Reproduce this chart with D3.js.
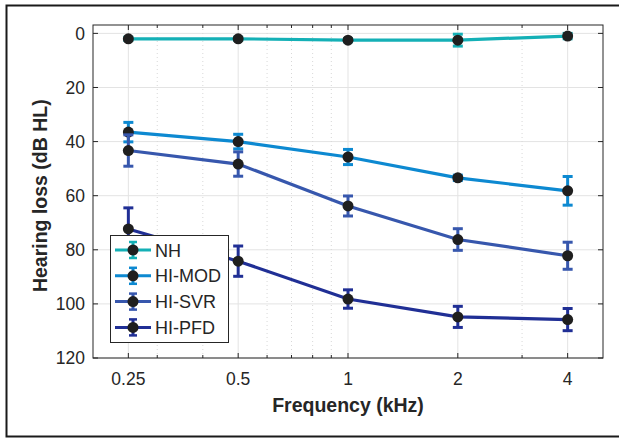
<!DOCTYPE html>
<html lang="en">
  <head>
    <meta charset="UTF-8" />
    <title>Hearing loss</title>
    <style>
      body { margin: 0; background: #fff; }
      text { font-family: "Liberation Sans", Arial, sans-serif; fill: #262626; }
    </style>
  </head>
  <body>
    <svg id="svg" width="619" height="438"></svg>
    <script src="https://d3js.org/d3.v7.min.js"></script>
    <script>
      // data
      const freqs = [0.25, 0.5, 1, 2, 4];
      const groups = ["NH", "HI-MOD", "HI-SVR", "HI-PFD"];
      const colors = ["#14b0b6", "#0d89d1", "#3757ad", "#202f95"];
      const nhMean = [2, 2, 2.5, 2.5, 1];
      const nhErr = [0.6, 0.6, 0.6, 2.2, 1];
      const modMean = [36.5, 40, 45.7, 53.4, 58.2];
      const modErr = [3.6, 2.7, 2.8, 1, 5.3];
      const svrMean = [43.3, 48.3, 63.8, 76.2, 82.2];
      const svrErr = [5.8, 4.5, 3.7, 4, 5];
      const pfdMean = [72.3, 84.2, 98.2, 104.8, 105.8];
      const pfdErr = [7.8, 5.6, 3.4, 3.9, 4.1];
      const yTicks = [0, 20, 40, 60, 80, 100, 120];
      const xMinor = [0.3, 0.4, 0.6, 0.7, 0.8, 0.9, 3];

      const means = [nhMean, modMean, svrMean, pfdMean];
      const errs = [nhErr, modErr, svrErr, pfdErr];

      const svg = d3.select("#svg");
      const L = 93, T = 25, R = 603, B = 358;

      const x = d3.scaleLog().domain([0.2, 5]).range([L, R]);
      const y = d3.scaleLinear().domain([-3.1, 120]).range([T, B]);

      // outer frame
      svg.append("rect")
        .attr("x", 6.5).attr("y", 5.5)
        .attr("width", 630).attr("height", 431)
        .attr("fill", "none").attr("stroke", "#1a1a1a").attr("stroke-width", 2);

      // grid
      const grid = svg.append("g");
      grid.selectAll(".ym").data(yTicks).enter().append("line")
        .attr("x1", L).attr("x2", R)
        .attr("y1", (d) => y(d)).attr("y2", (d) => y(d))
        .attr("stroke", "#e3e3e3").attr("stroke-width", 1);
      grid.selectAll(".xm").data(freqs).enter().append("line")
        .attr("x1", (d) => x(d)).attr("x2", (d) => x(d))
        .attr("y1", T).attr("y2", B)
        .attr("stroke", "#e3e3e3").attr("stroke-width", 1);
      grid.selectAll(".xn").data(xMinor).enter().append("line")
        .attr("x1", (d) => x(d)).attr("x2", (d) => x(d))
        .attr("y1", T).attr("y2", B)
        .attr("stroke", "#d8d8d8").attr("stroke-width", 1)
        .attr("stroke-dasharray", "1,3");

      // axes box + ticks
      const ax = svg.append("g");
      ax.append("rect")
        .attr("x", L).attr("y", T).attr("width", R - L).attr("height", B - T)
        .attr("fill", "none").attr("stroke", "#262626").attr("stroke-width", 1);
      const majorX = ax.selectAll(".tx").data(freqs).enter();
      majorX.append("line")
        .attr("x1", (d) => x(d)).attr("x2", (d) => x(d))
        .attr("y1", B).attr("y2", B - 5).attr("stroke", "#262626");
      majorX.append("line")
        .attr("x1", (d) => x(d)).attr("x2", (d) => x(d))
        .attr("y1", T).attr("y2", T + 5).attr("stroke", "#262626");
      const minorX = ax.selectAll(".tn").data(xMinor).enter();
      minorX.append("line")
        .attr("x1", (d) => x(d)).attr("x2", (d) => x(d))
        .attr("y1", B).attr("y2", B - 3).attr("stroke", "#262626");
      minorX.append("line")
        .attr("x1", (d) => x(d)).attr("x2", (d) => x(d))
        .attr("y1", T).attr("y2", T + 3).attr("stroke", "#262626");
      const majorY = ax.selectAll(".ty").data(yTicks).enter();
      majorY.append("line")
        .attr("x1", L).attr("x2", L + 5)
        .attr("y1", (d) => y(d)).attr("y2", (d) => y(d)).attr("stroke", "#262626");
      majorY.append("line")
        .attr("x1", R).attr("x2", R - 5)
        .attr("y1", (d) => y(d)).attr("y2", (d) => y(d)).attr("stroke", "#262626");

      // tick labels
      ax.selectAll(".xl").data(freqs).enter().append("text")
        .attr("x", (d) => x(d)).attr("y", 385)
        .attr("text-anchor", "middle").attr("font-size", 17.5)
        .text((d) => d);
      ax.selectAll(".yl").data(yTicks).enter().append("text")
        .attr("x", 85).attr("y", (d) => y(d) + 6.3)
        .attr("text-anchor", "end").attr("font-size", 17.5)
        .text((d) => d);

      // axis labels
      svg.append("text")
        .attr("x", x(1)).attr("y", 412)
        .attr("text-anchor", "middle").attr("font-size", 19.5).attr("font-weight", "bold")
        .text("Frequency (kHz)");
      svg.append("text")
        .attr("transform", `translate(47,${y(60)}) rotate(-90)`)
        .attr("text-anchor", "middle").attr("font-size", 19.5).attr("font-weight", "bold")
        .text("Hearing loss (dB HL)");

      // series
      const line = d3.line().x((d) => x(d.f)).y((d) => y(d.m));
      groups.forEach((g, gi) => {
        const pts = freqs.map((f, i) => ({ f: f, m: means[gi][i], e: errs[gi][i] }));
        const sg = svg.append("g");
        sg.append("path").datum(pts)
          .attr("d", line).attr("fill", "none")
          .attr("stroke", colors[gi]).attr("stroke-width", 3.2);
        const eb = sg.selectAll(".eb").data(pts).enter().append("g");
        eb.append("line")
          .attr("x1", (d) => x(d.f)).attr("x2", (d) => x(d.f))
          .attr("y1", (d) => y(d.m - d.e)).attr("y2", (d) => y(d.m + d.e))
          .attr("stroke", colors[gi]).attr("stroke-width", 3);
        eb.append("line")
          .attr("x1", (d) => x(d.f) - 5).attr("x2", (d) => x(d.f) + 5)
          .attr("y1", (d) => y(d.m - d.e)).attr("y2", (d) => y(d.m - d.e))
          .attr("stroke", colors[gi]).attr("stroke-width", 3);
        eb.append("line")
          .attr("x1", (d) => x(d.f) - 5).attr("x2", (d) => x(d.f) + 5)
          .attr("y1", (d) => y(d.m + d.e)).attr("y2", (d) => y(d.m + d.e))
          .attr("stroke", colors[gi]).attr("stroke-width", 3);
        eb.append("circle")
          .attr("cx", (d) => x(d.f)).attr("cy", (d) => y(d.m))
          .attr("r", 5.5).attr("fill", "#1f1f1f");
      });

      // legend
      const lg = svg.append("g");
      lg.append("rect")
        .attr("x", 110.5).attr("y", 235.5).attr("width", 118).attr("height", 107)
        .attr("fill", "#fff").attr("stroke", "#262626").attr("stroke-width", 1);
      const items = lg.selectAll(".li").data(groups).enter().append("g")
        .attr("transform", (d, i) => `translate(0,${250 + i * 25.8})`);
      items.append("line")
        .attr("x1", 115).attr("x2", 151).attr("y1", 0).attr("y2", 0)
        .attr("stroke", (d, i) => colors[i]).attr("stroke-width", 3);
      items.append("line")
        .attr("x1", 133).attr("x2", 133).attr("y1", -8).attr("y2", 8)
        .attr("stroke", (d, i) => colors[i]).attr("stroke-width", 3);
      items.append("line")
        .attr("x1", 129).attr("x2", 137).attr("y1", -8).attr("y2", -8)
        .attr("stroke", (d, i) => colors[i]).attr("stroke-width", 2.5);
      items.append("line")
        .attr("x1", 129).attr("x2", 137).attr("y1", 8).attr("y2", 8)
        .attr("stroke", (d, i) => colors[i]).attr("stroke-width", 2.5);
      items.append("circle")
        .attr("cx", 133).attr("cy", 0).attr("r", 5.5).attr("fill", "#1f1f1f");
      items.append("text")
        .attr("x", 155).attr("y", 6.5).attr("font-size", 18)
        .text((d) => d);
    </script>
  </body>
</html>
